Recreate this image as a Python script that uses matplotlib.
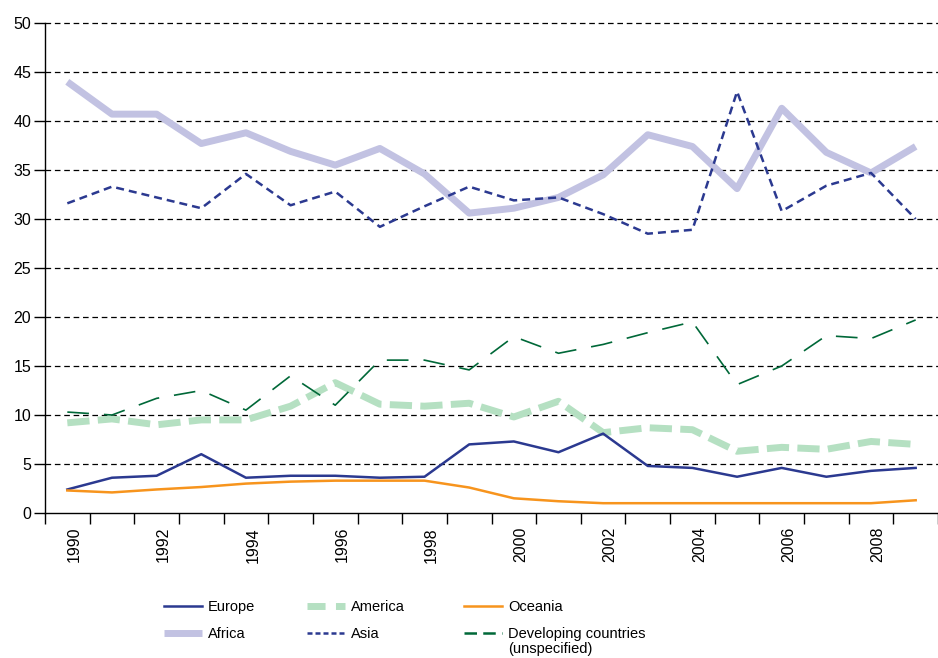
import matplotlib
matplotlib.use("Agg")
import matplotlib.pyplot as plt
import matplotlib.transforms as mtransforms
from matplotlib.lines import Line2D
import numpy as np

plt.rcParams['font.family'] = ['Liberation Sans', 'DejaVu Sans']

years = list(range(1990, 2010))
europe = [2.4, 3.6, 3.8, 6.0, 3.6, 3.8, 3.8, 3.6, 3.7, 7.0, 7.3, 6.2, 8.1, 4.8, 4.6, 3.7, 4.6, 3.7, 4.3, 4.6]
africa = [44.0, 40.7, 40.7, 37.7, 38.8, 36.9, 35.5, 37.2, 34.6, 30.6, 31.1, 32.2, 34.5, 38.6, 37.4, 33.1, 41.3, 36.8, 34.7, 37.4]
america = [9.2, 9.6, 9.0, 9.5, 9.5, 10.9, 13.3, 11.1, 10.9, 11.2, 9.8, 11.4, 8.2, 8.7, 8.5, 6.3, 6.7, 6.5, 7.3, 7.0]
asia = [31.6, 33.3, 32.2, 31.1, 34.6, 31.4, 32.8, 29.2, 31.3, 33.3, 31.9, 32.2, 30.5, 28.5, 28.9, 43.0, 30.8, 33.4, 34.7, 30.0]
oceania = [2.3, 2.1, 2.4, 2.65, 3.0, 3.2, 3.3, 3.3, 3.3, 2.6, 1.5, 1.2, 1.0, 1.0, 1.0, 1.0, 1.0, 1.0, 1.0, 1.3]
developing = [10.3, 10.0, 11.7, 12.5, 10.5, 14.0, 11.0, 15.6, 15.6, 14.6, 18.0, 16.3, 17.2, 18.4, 19.5, 13.1, 15.0, 18.1, 17.8, 19.7]
yticks = [0, 5, 10, 15, 20, 25, 30, 35, 40, 45, 50]

c_eu = '#2b3990'
c_af = '#c2c2e2'
c_am = '#b5e0c2'
c_oc = '#f7941d'
c_as = '#2b3990'
c_dev = '#006838'

fig = plt.figure(figsize=(9.38, 6.58), dpi=100)
ax = fig.add_axes([45/938, 1-513/658, 1-45/938, (513-23)/658])

x = np.arange(len(years))
ax.plot(x, africa, color=c_af, lw=5, solid_capstyle='butt', zorder=3)
ax.plot(x, america, color=c_am, lw=5, dashes=(3.2, 1.2), zorder=3)
ax.plot(x, europe, color=c_eu, lw=1.8, zorder=4)
ax.plot(x, oceania, color=c_oc, lw=1.8, zorder=4)
ax.plot(x, asia, color=c_as, lw=1.8, dashes=(3.2, 2.0), zorder=4)
ax.plot(x, developing, color=c_dev, lw=1.2, dashes=(13, 9), zorder=4)

ax.set_xlim(-0.5, len(years) - 0.5)
ax.set_ylim(0, 50)
ax.set_yticks(yticks)
ax.set_yticklabels([str(v) for v in yticks], fontsize=11.5)
for v in yticks[1:]:
    ax.axhline(v, color='black', lw=0.9, dashes=(4.5, 3), zorder=1, clip_on=False)

ax.set_xticks(x[::2])
ax.set_xticklabels([str(y) for y in years[::2]], rotation=90, fontsize=11.5)
ax.set_xticks(np.arange(-0.5, len(years)), minor=True)
ax.tick_params(axis='x', which='major', length=0, pad=10)
ax.tick_params(axis='x', which='minor', length=8, width=1)
ax.tick_params(axis='y', length=8, width=1, pad=2)
offset = mtransforms.ScaledTranslation(7/100, 0, fig.dpi_scale_trans)
for lab in ax.get_xticklabels():
    lab.set_transform(lab.get_transform() + offset)

for s in ['top', 'right']:
    ax.spines[s].set_visible(False)
ax.spines['left'].set_linewidth(1)
ax.spines['bottom'].set_linewidth(1)

h_eu = Line2D([], [], color=c_eu, lw=1.8)
h_af = Line2D([], [], color=c_af, lw=5, solid_capstyle='butt')
h_am = Line2D([], [], color=c_am, lw=5, dashes=(2.6, 1.5))
h_as = Line2D([], [], color=c_as, lw=1.8, dashes=(2.0, 1.2))
h_oc = Line2D([], [], color=c_oc, lw=1.8)
h_dev = Line2D([], [], color=c_dev, lw=1.8, dashes=(5, 2.5))

legend_cols = [
    ([h_eu, h_af], ['Europe', 'Africa'], 157),
    ([h_am, h_as], ['America', 'Asia'], 300),
    ([h_oc, h_dev], ['Oceania', 'Developing countries'], 457),
]
legs = []
for hs, ls, xpx in legend_cols:
    lg = fig.legend(hs, ls, loc='upper left', bbox_to_anchor=(xpx/938, 1-593/658),
                    ncol=1, frameon=False, fontsize=10.5, handlelength=2.6,
                    handletextpad=0.4, labelspacing=0.85, borderpad=0)
    legs.append(lg)

fig.canvas.draw()
t = legs[-1].get_texts()[-1]
bb = t.get_window_extent()
fig.text(bb.x0/938, (bb.y0 - 1)/658, '(unspecified)', fontsize=10.5, va='top', ha='left')

fig.savefig('out.png', dpi=100)
